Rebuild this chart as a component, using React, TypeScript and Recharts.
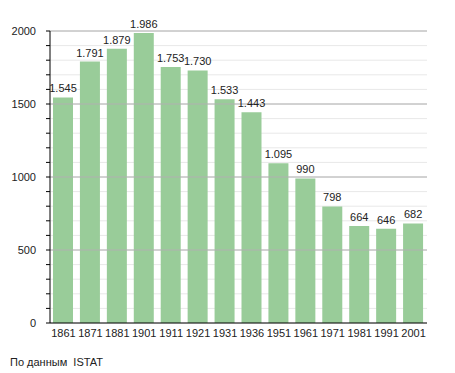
import { BarChart, Bar, XAxis, YAxis, CartesianGrid, ReferenceLine, LabelList } from "recharts";

const years = ["1861", "1871", "1881", "1901", "1911", "1921", "1931", "1936", "1951", "1961", "1971", "1981", "1991", "2001"];
const population = [1545, 1791, 1879, 1986, 1753, 1730, 1533, 1443, 1095, 990, 798, 664, 646, 682];
const yTicks = [0, 100, 200, 300, 400, 500, 600, 700, 800, 900, 1000, 1100, 1200, 1300, 1400, 1500, 1600, 1700, 1800, 1900, 2000];
const majorTicks = [500, 1000, 1500, 2000];

const data = years.map((year, i) => ({ year, value: population[i] }));

const font = "'Liberation Sans', Arial, sans-serif";

const fmt = (v: any) => {
  const n = Number(v);
  return n >= 1000 ? Math.floor(n / 1000) + "." + String(n % 1000).padStart(3, "0") : String(n);
};

const YTick = (props: any) => {
  const { x, y, payload } = props;
  if (payload.value % 500 !== 0) return null;
  return (
    <text x={x} y={y} dy={4} textAnchor="end" fontSize={11} fill="#222" fontFamily={font}>
      {payload.value}
    </text>
  );
};

export default function App() {
  return (
    <div style={{ position: "absolute", left: 0, top: 0, width: 455, height: 373, background: "#fff" }}>
      <BarChart
        width={455}
        height={373}
        data={data}
        margin={{ top: 31, right: 28, bottom: 20, left: 0 }}
        barSize={20}
      >
        <CartesianGrid vertical={false} stroke="#e8e8e8" />
        {majorTicks.map((t) => (
          <ReferenceLine key={t} y={t} stroke="#b0b0b0" />
        ))}
        <XAxis
          dataKey="year"
          height={30}
          tickLine={false}
          axisLine={{ stroke: "#000" }}
          tick={{ fontSize: 11, fill: "#222", fontFamily: font }}
          tickMargin={0}
          interval={0}
        />
        <YAxis
          width={50}
          domain={[0, 2000]}
          ticks={yTicks}
          interval={0}
          tickSize={4}
          tickMargin={10}
          tickLine={{ stroke: "#000" }}
          axisLine={{ stroke: "#000" }}
          tick={<YTick />}
        />
        <Bar dataKey="value" fill="#99cc99" isAnimationActive={false}>
          <LabelList
            dataKey="value"
            position="top"
            formatter={fmt}
            fill="#222"
            fontSize={11}
            fontFamily={font}
          />
        </Bar>
      </BarChart>
      <div style={{ position: "absolute", left: 10, top: 356, fontSize: 11, fontFamily: font, color: "#222" }}>
        По данным&nbsp; ISTAT
      </div>
    </div>
  );
}
